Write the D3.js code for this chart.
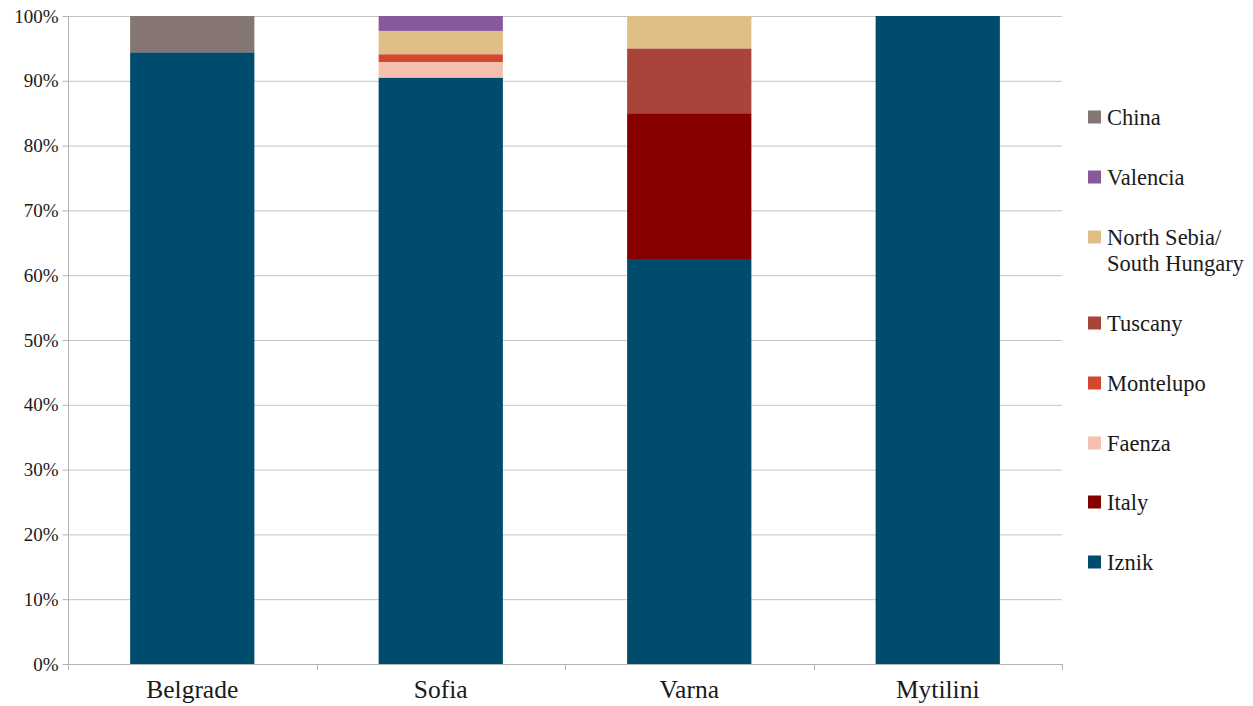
<!DOCTYPE html>
<html>
<head>
<meta charset="utf-8">
<script src="https://cdn.jsdelivr.net/npm/d3@7"></script>
<style>
  html, body { margin: 0; padding: 0; background: #fff; }
  svg { display: block; }
  text { font-family: "Liberation Serif", "Tinos", "Times New Roman", "DejaVu Serif", serif; fill: #1a1a1a; }
</style>
</head>
<body>
<svg id="chart" width="1253" height="706"></svg>
<script>
// Sites along the x axis
const sites = ["Belgrade", "Sofia", "Varna", "Mytilini"];

// Share (%) of each ware origin per site, stacked bottom to top
const iznik      = [94.4, 90.5, 62.5, 100];
const italy      = [0, 0, 22.5, 0];
const faenza     = [0, 2.4, 0, 0];
const montelupo  = [0, 1.2, 0, 0];
const tuscany    = [0, 0, 10, 0];
const northSerbia = [0, 3.6, 5, 0];
const valencia   = [0, 2.3, 0, 0];
const china      = [5.6, 0, 0, 0];

const seriesNames = ["Iznik", "Italy", "Faenza", "Montelupo", "Tuscany",
                     "North Sebia/\nSouth Hungary", "Valencia", "China"];
const seriesValues = [iznik, italy, faenza, montelupo, tuscany, northSerbia, valencia, china];
const seriesColors = ["#004c6c", "#870000", "#f4c0b0", "#d2482f", "#a9443a",
                      "#dfbf87", "#87589a", "#857573"];

const yTicks = [0, 10, 20, 30, 40, 50, 60, 70, 80, 90, 100];

const FONT = '"Liberation Serif", "Tinos", "Times New Roman", "DejaVu Serif", serif';

const svg = d3.select("#chart");
const margin = { left: 68, right: 191, top: 16, bottom: 42 };
const W = 1253, H = 706;
const x0 = margin.left, x1 = W - margin.right;
const yTop = margin.top, yBot = H - margin.bottom;

const x = d3.scaleBand().domain(sites).range([x0, x1]).paddingInner(0.5).paddingOuter(0.25);
const xOuter = d3.scaleBand().domain(sites).range([x0, x1]);
const y = d3.scaleLinear().domain([0, 100]).range([yBot, yTop]);

// Horizontal gridlines
svg.append("g").selectAll("line").data(yTicks).join("line")
  .attr("x1", x0).attr("x2", x1)
  .attr("y1", d => y(d) + 0.5).attr("y2", d => y(d) + 0.5)
  .attr("stroke", "#c3c3c3").attr("stroke-width", 1);

// Stack data
const rows = sites.map((s, i) => {
  const r = { site: s };
  seriesNames.forEach((n, k) => { r[n] = seriesValues[k][i]; });
  return r;
});
const stacked = d3.stack().keys(seriesNames)(rows);

svg.append("g").selectAll("g").data(stacked).join("g")
  .attr("fill", (d, i) => seriesColors[i])
  .selectAll("rect").data(d => d.filter(p => p[1] - p[0] > 0)).join("rect")
  .attr("x", d => x(d.data.site))
  .attr("width", x.bandwidth())
  .attr("y", d => y(d[1]))
  .attr("height", d => y(d[0]) - y(d[1]));

// Y axis
const yAxis = d3.axisLeft(y).tickValues(yTicks).tickFormat(d => d + "%").tickSize(6).tickPadding(4);
const gy = svg.append("g").attr("transform", `translate(${x0 + 0.5},0)`).call(yAxis)
  .attr("font-family", null).attr("font-size", null);
gy.select(".domain").attr("stroke", "#b3b3b3").attr("d", `M0,${yTop}V${yBot + 6}`);
gy.selectAll(".tick line").attr("stroke", "#b3b3b3");
gy.selectAll(".tick text").style("font-size", "19px").style("font-family", FONT).attr("fill", "#1a1a1a");

// X axis line with category boundary ticks
svg.append("line").attr("x1", x0).attr("x2", x1).attr("y1", yBot + 0.5).attr("y2", yBot + 0.5)
  .attr("stroke", "#b3b3b3");
svg.append("g").selectAll("line").data(sites).join("line")
  .attr("x1", d => Math.round(xOuter(d) + xOuter.bandwidth()) + 0.5)
  .attr("x2", d => Math.round(xOuter(d) + xOuter.bandwidth()) + 0.5)
  .attr("y1", yBot).attr("y2", yBot + 6)
  .attr("stroke", "#b3b3b3");

svg.append("g").selectAll("text").data(sites).join("text")
  .attr("x", d => x(d) + x.bandwidth() / 2)
  .attr("y", yBot + 34)
  .attr("text-anchor", "middle")
  .style("font-family", FONT)
  .style("font-size", "25.5px")
  .text(d => d);

// Legend, top entry first
const legendOrder = d3.range(seriesNames.length).reverse();
const legendY = [117, 177, 237, 323, 383, 443, 502, 562];
const lg = svg.append("g");
legendOrder.forEach((k, j) => {
  const cy = legendY[j];
  lg.append("rect").attr("x", 1088).attr("y", cy - 6.5).attr("width", 13).attr("height", 13)
    .attr("fill", seriesColors[k]);
  const lines = seriesNames[k].split("\n");
  const t = lg.append("text").attr("x", 1107).attr("y", cy + 7.5)
    .style("font-family", FONT).style("font-size", "22.5px");
  lines.forEach((ln, li) => {
    t.append("tspan").attr("x", 1107).attr("dy", li === 0 ? 0 : 26).text(ln);
  });
});
</script>
</body>
</html>
